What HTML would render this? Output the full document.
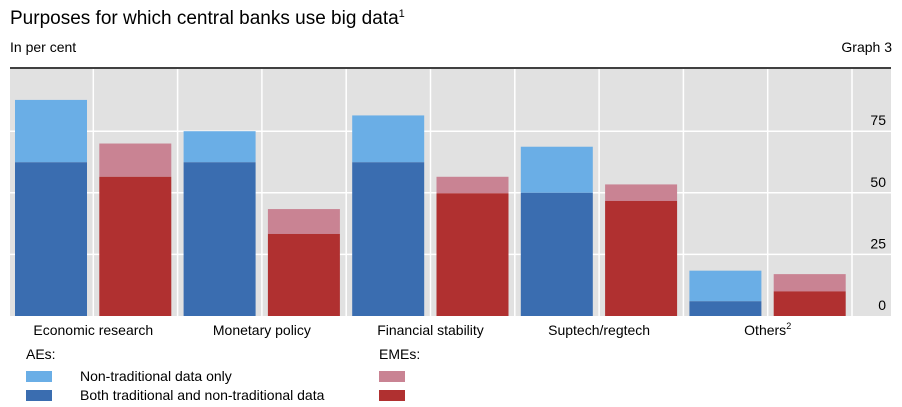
<!DOCTYPE html>
<html><head><meta charset="utf-8"><style>
body{margin:0;background:#fff;font-family:"Liberation Sans",sans-serif;}
svg{display:block}
</style></head><body>
<svg width="902" height="407" xmlns="http://www.w3.org/2000/svg" id="c">
<text x="10" y="24" font-size="19" fill="#000">Purposes for which central banks use big data<tspan font-size="11" dy="-7">1</tspan></text>
<text x="10" y="52" font-size="14" fill="#000">In per cent</text>
<text x="892" y="52" font-size="14" fill="#000" text-anchor="end">Graph 3</text>
<rect x="10" y="69" width="881" height="247" fill="#e1e1e1"/>
<line x1="10" y1="68" x2="891" y2="68" stroke="#000" stroke-width="1.5"/>
<g id="grid"></g><g id="bars"></g><g id="labels"></g>
<g font-size="14">
<text x="26" y="359">AEs:</text>
<rect x="26" y="371" width="26" height="11" fill="#6aaee6"/>
<text x="80" y="381">Non-traditional data only</text>
<rect x="26" y="390" width="26" height="11" fill="#3a6db0"/>
<text x="80" y="400">Both traditional and non-traditional data</text>
<text x="379" y="359">EMEs:</text>
<rect x="379" y="371" width="26" height="11" fill="#c98393"/>
<rect x="379" y="390" width="26" height="11" fill="#b03030"/>
</g>
</svg>
<script>
const categories=["Economic research","Monetary policy","Financial stability","Suptech/regtech","Others"];
const aeTotal=[87.7,75,81.4,68.7,18.4];
const aeBoth=[62.4,62.4,62.4,50,6];
const emeTotal=[70,43.4,56.5,53.4,17];
const emeBoth=[56.5,33.3,49.8,46.7,10];
const yTicks=[0,25,50,75];
const NS="http://www.w3.org/2000/svg";
const y0=316,pxPer=61.6/25;
function y(v){return y0-v*pxPer;}
const slotW=84.3,left=9;
function slotX(i){return left+i*slotW;}
function mk(tag,attrs,parent){const e=document.createElementNS(NS,tag);for(const k in attrs)e.setAttribute(k,attrs[k]);parent.appendChild(e);return e;}
const grid=document.getElementById('grid'),bars=document.getElementById('bars'),labels=document.getElementById('labels');
yTicks.forEach(t=>{
 if(t>0){const l=mk('line',{x1:10,x2:891,y1:y(t),y2:y(t),stroke:'#fff','stroke-width':1.5},grid);
 
 }
 const tx=mk('text',{x:886,y:y(t)-6,'font-size':14,'text-anchor':'end',fill:'#000'},labels);
 tx.textContent=t;
 
 
});
for(let i=1;i<=10;i++){const l=mk('line',{x1:slotX(i),x2:slotX(i),y1:69,y2:316,stroke:'#fff','stroke-width':1.5},grid);
 
 }
function bar(x,tot,both,cl,cd,name){
 const a=mk('rect',{x:x,y:y(tot),width:72,height:y(both)-y(tot),fill:cl},bars);
 
 
 const b=mk('rect',{x:x,y:y(both),width:72,height:y0-y(both),fill:cd},bars);
 
 
}
categories.forEach((c,i)=>{
 const k=c.toLowerCase().replace(/[^a-z]+/g,'-');
 bar(slotX(2*i)+6,aeTotal[i],aeBoth[i],'#6aaee6','#3a6db0','bar-ae-'+k);
 bar(slotX(2*i+1)+6,emeTotal[i],emeBoth[i],'#c98393','#b03030','bar-eme-'+k);
 const t=mk('text',{x:slotX(2*i+1),y:335,'font-size':14,'text-anchor':'middle',fill:'#000'},labels);
 t.textContent=c;
 if(c==="Others"){const s=mk('tspan',{'font-size':9,dy:-6},t);s.textContent='2';}
 
 
});
</script>
</body></html>
